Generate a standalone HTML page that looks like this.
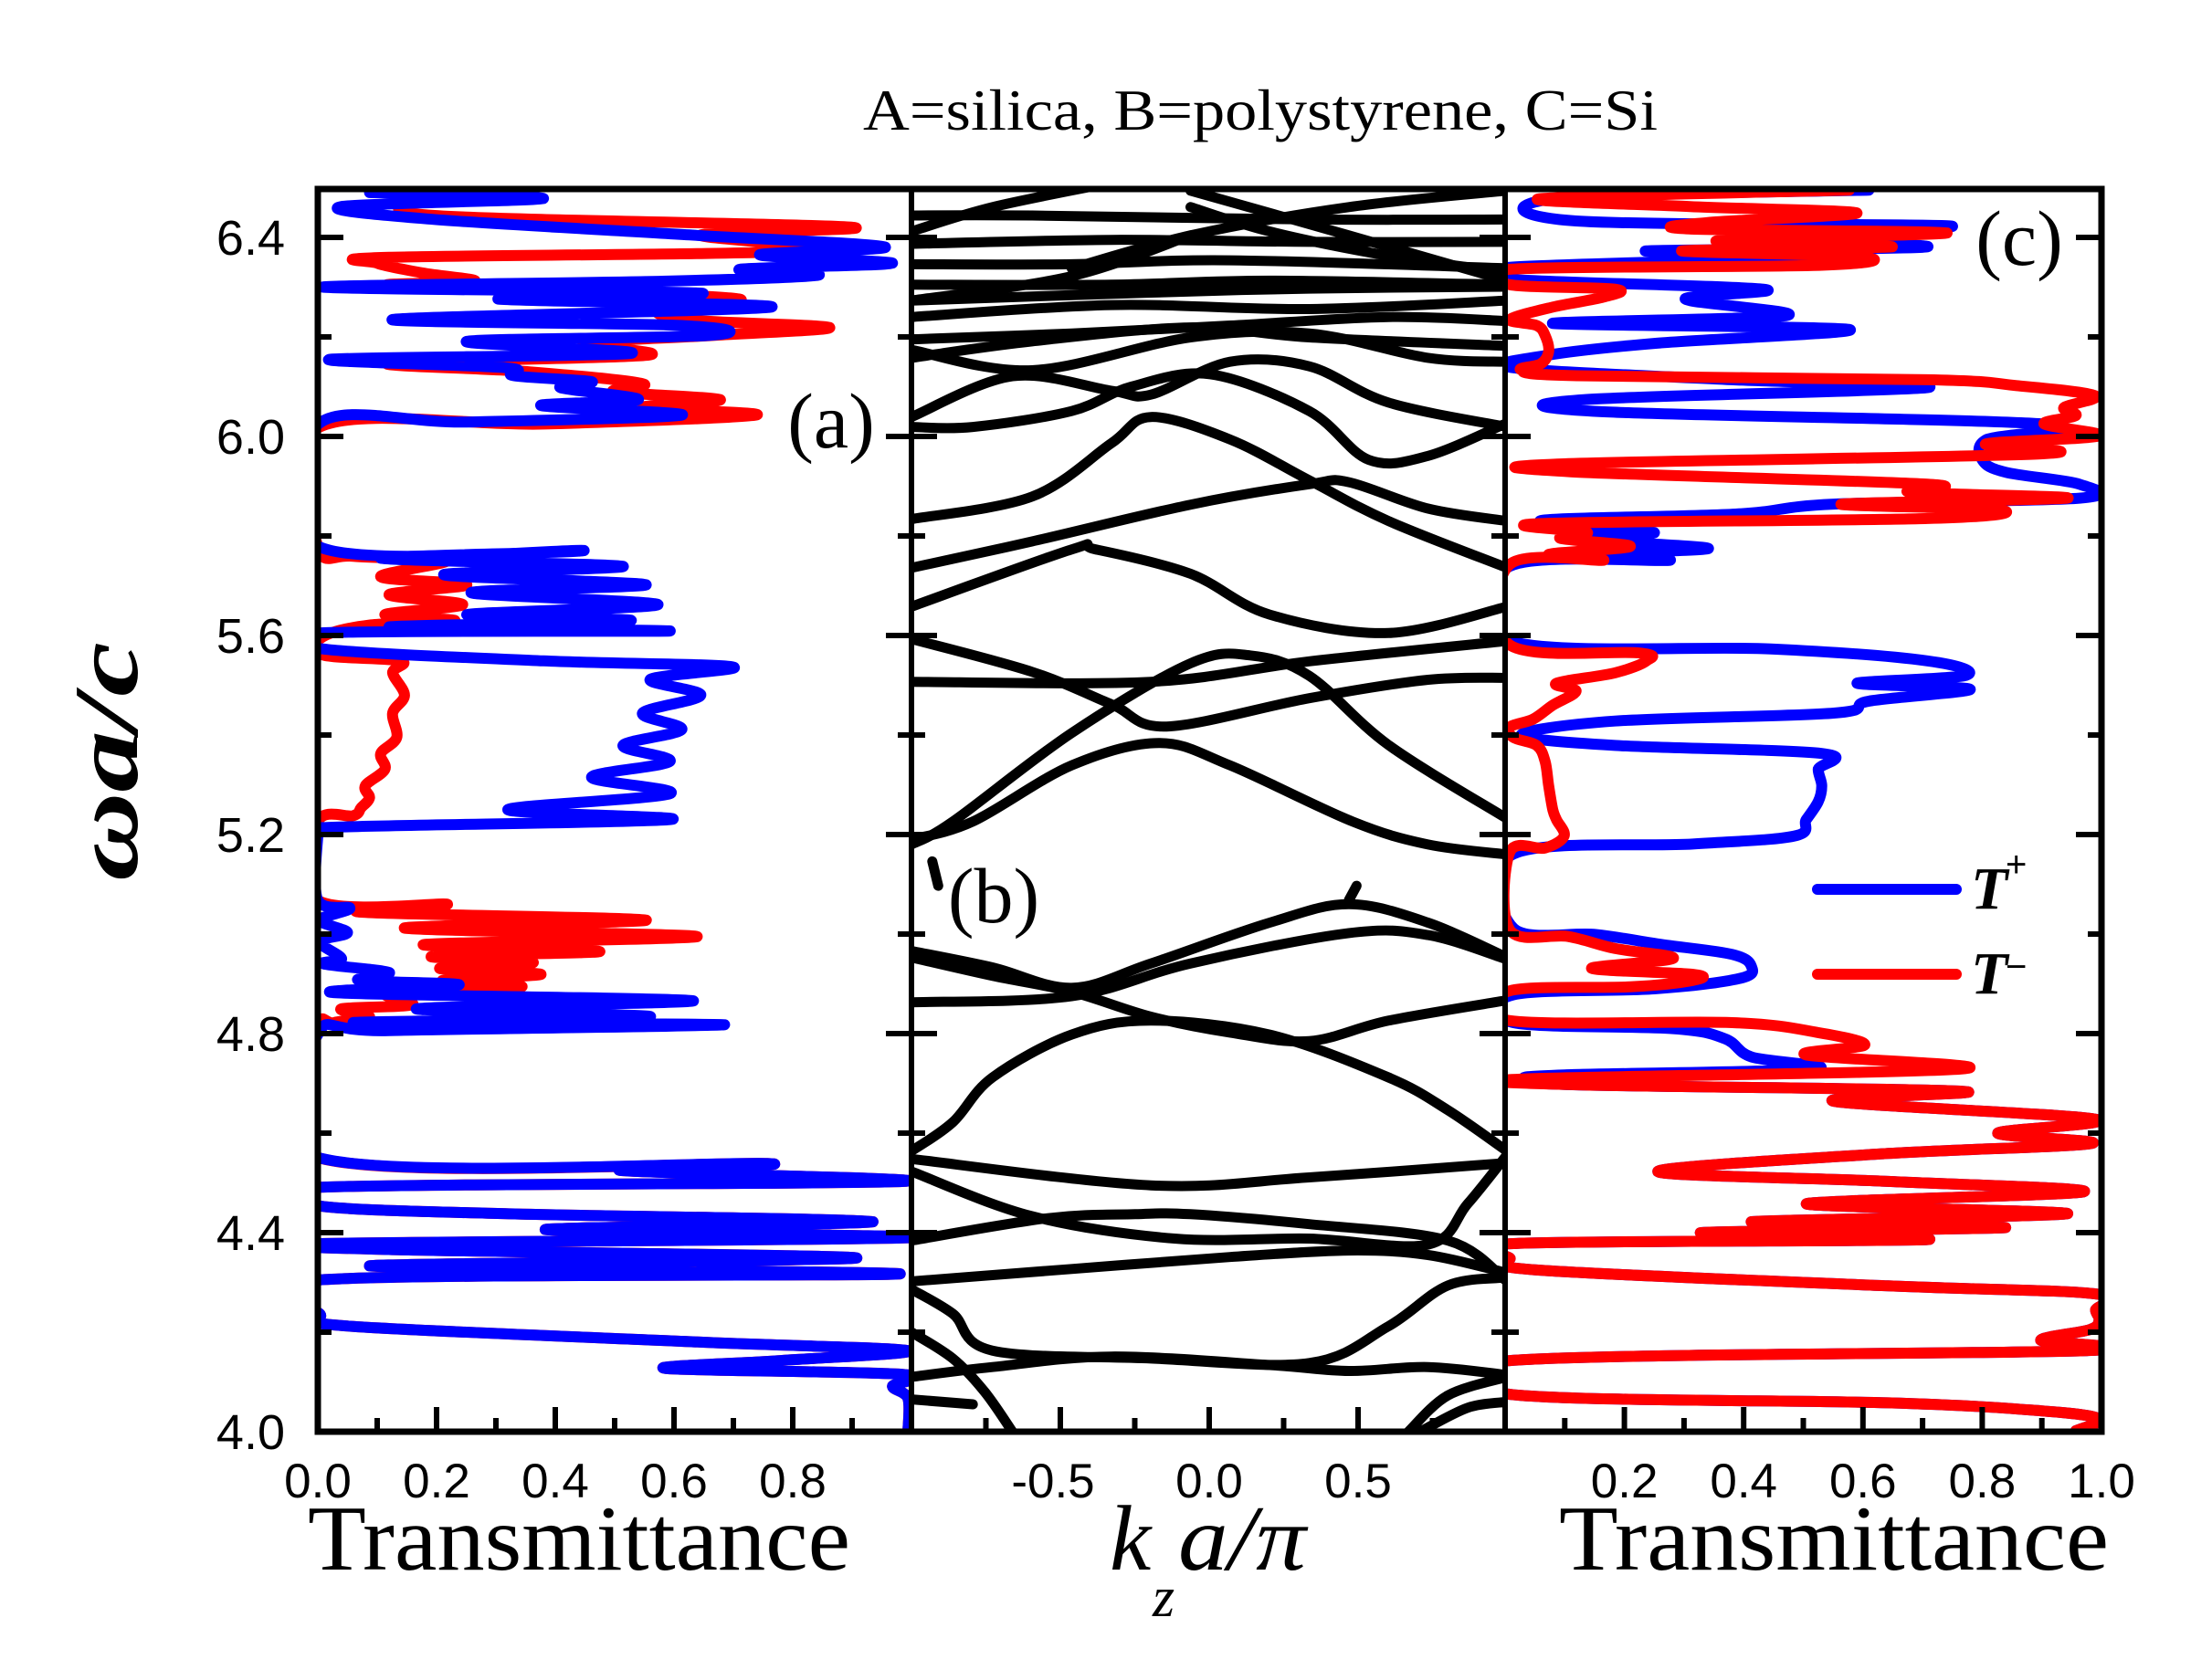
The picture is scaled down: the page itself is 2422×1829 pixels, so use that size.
<!DOCTYPE html>
<html><head><meta charset="utf-8"><style>
html,body{margin:0;padding:0;background:#fff;}
svg{display:block;}
</style></head><body>
<svg id="chart" xmlns="http://www.w3.org/2000/svg" width="2422" height="1829" viewBox="0 0 2422 1829">
<rect x="0" y="0" width="2422" height="1829" fill="#fff"/>
<defs>
<clipPath id="clipA"><rect x="348" y="207" width="650" height="1361"/></clipPath>
<clipPath id="clipB"><rect x="998" y="207" width="650" height="1361"/></clipPath>
<clipPath id="clipC"><rect x="1648" y="207" width="653" height="1361"/></clipPath>
</defs>
<g id="gA" clip-path="url(#clipA)"></g>
<g id="gB" clip-path="url(#clipB)"></g>
<g id="gC" clip-path="url(#clipC)"></g>
<g id="gAxes"></g>
<text x="1380" y="142" font-family="Liberation Serif, serif" font-size="64" text-anchor="middle" textLength="870" lengthAdjust="spacingAndGlyphs">A=silica, B=polystyrene, C=Si</text>
<text x="910" y="490" font-family="Liberation Serif, serif" font-size="86" text-anchor="middle">(a)</text>
<text x="1088" y="1010" font-family="Liberation Serif, serif" font-size="86" text-anchor="middle">(b)</text>
<text x="2211" y="290" font-family="Liberation Serif, serif" font-size="86" text-anchor="middle">(c)</text>
<text x="634" y="1719" font-family="Liberation Serif, serif" font-size="102" text-anchor="middle" textLength="594" lengthAdjust="spacingAndGlyphs">Transmittance</text>
<text x="2008" y="1719" font-family="Liberation Serif, serif" font-size="102" text-anchor="middle" textLength="602" lengthAdjust="spacingAndGlyphs">Transmittance</text>
<g font-family="Liberation Serif, serif" font-style="italic">
<text x="1215" y="1719" font-size="102">k</text>
<text x="1262" y="1770" font-size="62">z</text>
<text x="1290" y="1719" font-size="102" textLength="140" lengthAdjust="spacingAndGlyphs">a/π</text>
</g>
<text transform="translate(150,834) rotate(-90)" x="0" y="0" font-family="Liberation Serif, serif" font-size="100" font-weight="bold" font-style="italic" text-anchor="middle" textLength="262" lengthAdjust="spacingAndGlyphs">ωa/c</text>
<g>
<line x1="1990" y1="974" x2="2142" y2="974" stroke="#0000ff" stroke-width="12" stroke-linecap="round"/>
<text x="2158" y="995" font-family="Liberation Serif, serif" font-size="66" font-weight="bold" font-style="italic">T</text>
<text x="2196" y="960" font-family="Liberation Sans, sans-serif" font-size="40">+</text>
<line x1="1990" y1="1067" x2="2142" y2="1067" stroke="#ff0000" stroke-width="12" stroke-linecap="round"/>
<text x="2158" y="1088" font-family="Liberation Serif, serif" font-size="66" font-weight="bold" font-style="italic">T</text>
<text x="2196" y="1072" font-family="Liberation Sans, sans-serif" font-size="40">−</text>
</g>
</svg>
<script>
// ---------- data: panel (a) ----------
const aBlueW=[6.490,6.478,6.462,6.437,6.405,6.381,6.365,6.348,6.336,6.324,6.312,6.300,6.288,6.276,6.260,6.235,6.223,6.203,6.191,6.167,6.155,6.138,6.122,6.110,6.098,6.074,6.062,6.043,6.029,6.025,5.779,5.771,5.755,5.739,5.722,5.702,5.686,5.662,5.642,5.630,5.617,5.609,5.605,5.573,5.549,5.537,5.512,5.480,5.444,5.411,5.379,5.347,5.315,5.282,5.250,5.230,5.214,5.197,5.068,5.052,5.028,5.003,4.985,4.951,4.940,4.923,4.907,4.898,4.882,4.866,4.850,4.834,4.822,4.818,4.806,4.798,4.551,4.539,4.525,4.503,4.491,4.454,4.438,4.422,4.406,4.390,4.378,4.366,4.349,4.333,4.317,4.305,4.236,4.212,4.180,4.163,4.143,4.127,4.115,4.091,4.067,4.000];
const aBlueT=[.087,.38,.04,.185,.626,.955,.744,.968,.711,.843,.58,.008,.645,.304,.764,.126,.613,.659,.251,.527,.021,.317,.33,.461,.409,.54,.376,.613,.251,.001,.001,.448,.106,.514,.212,.553,.258,.573,.251,.527,.12,.593,.001,.008,.38,.698,.56,.645,.547,.613,.514,.593,.461,.593,.32,.593,.008,0,0,.054,.003,.05,.003,.04,.01,.12,.07,.238,.03,.632,.166,.56,.06,.685,.12,0,0,.757,.51,.987,0,0,.317,.935,.383,1.0,0,.12,.908,.087,.981,0,.004,.054,.645,.994,.78,.586,.987,.968,.994,.994];
const aRedW=[6.495,6.486,6.445,6.421,6.405,6.373,6.360,6.348,6.328,6.312,6.304,6.292,6.276,6.260,6.235,6.219,6.203,6.187,6.163,6.147,6.130,6.106,6.090,6.074,6.058,6.043,6.025,6.017,5.779,5.759,5.751,5.718,5.702,5.682,5.662,5.642,5.630,5.621,5.597,5.561,5.549,5.525,5.480,5.444,5.395,5.363,5.331,5.298,5.274,5.254,5.238,5.226,5.068,5.060,5.044,5.028,5.012,4.995,4.979,4.965,4.955,4.943,4.931,4.919,4.907,4.894,4.882,4.858,4.850,4.834,4.822,4.806,4.551,4.539,4.525,4.503,4.491,4.454,4.438,4.422,4.406,4.390,4.378,4.366,4.349,4.333,4.317,4.305,4.236,4.212,4.180,4.163,4.143,4.127,4.115,4.091,4.067,4.000];
const aRedT=[.27,.205,.185,.895,.645,.823,.12,.1,.179,.264,.12,.448,.711,.58,.613,.862,.665,.448,.553,.12,.356,.547,.5,.678,.547,.738,.383,0,0,.06,.218,.106,.251,.12,.244,.113,.231,.087,.008,.008,.139,.126,.146,.126,.133,.106,.113,.08,.087,.073,.06,0,0,.218,.073,.553,.146,.639,.179,.475,.192,.363,.205,.376,.21,.343,.12,.159,.04,.087,.027,0,0,.757,.51,.987,0,0,.317,.935,.383,1.0,0,.12,.908,.087,.981,0,.004,.054,.645,.994,.78,.586,.987,.968,.994,.994];
// ---------- data: panel (c) ----------
const cBlueW=[6.495,6.478,6.433,6.423,6.405,6.381,6.373,6.361,6.340,6.316,6.296,6.276,6.243,6.227,6.215,6.187,6.163,6.138,6.114,6.098,6.074,6.050,6.025,5.993,5.953,5.928,5.904,5.876,5.864,5.844,5.831,5.807,5.795,5.775,5.763,5.751,5.739,5.589,5.573,5.549,5.520,5.504,5.492,5.468,5.444,5.428,5.400,5.379,5.363,5.331,5.298,5.266,5.230,5.197,5.181,5.161,5.012,4.999,4.979,4.959,4.935,4.911,4.890,4.878,4.822,4.810,4.790,4.753,4.729,4.717,4.709,4.697,4.684,4.664,4.628,4.600,4.579,4.559,4.523,4.503,4.482,4.458,4.438,4.422,4.410,4.400,4.386,4.378,4.349,4.325,4.293,4.277,4.244,4.224,4.205,4.184,4.163,4.143,4.075,4.058,4.042,4.026,4.002];
const cBlueT=[.61,.086,.119,.747,.38,.708,.237,.51,.008,.008,.433,.302,.472,.08,.577,.25,.07,.014,.38,.708,.132,.158,.904,.806,.8,.839,.963,.963,.551,.387,.06,.25,.11,.341,.12,.276,.008,.008,.446,.708,.773,.59,.78,.61,.551,.184,.027,.184,.531,.525,.531,.525,.505,.485,.315,.014,.014,.152,.263,.381,.413,.394,.25,.014,.014,.282,.368,.413,.518,.1,.034,.12,.767,.551,.989,.826,.983,.642,.256,.642,.97,.505,.943,.413,.839,.328,.708,.014,.008,.053,.642,.989,.99,.996,.98,.898,.976,.008,.008,.642,.898,.996,.957];
const cRedW=[6.495,6.478,6.462,6.449,6.430,6.417,6.409,6.393,6.381,6.373,6.361,6.344,6.336,6.305,6.296,6.280,6.260,6.235,6.223,6.203,6.171,6.146,6.134,6.122,6.114,6.102,6.082,6.058,6.042,6.025,6.001,5.985,5.965,5.945,5.929,5.904,5.888,5.876,5.864,5.852,5.835,5.825,5.807,5.795,5.779,5.763,5.751,5.743,5.581,5.565,5.549,5.525,5.504,5.488,5.460,5.432,5.416,5.395,5.379,5.347,5.298,5.250,5.230,5.197,5.173,5.165,5.008,4.995,4.971,4.951,4.931,4.919,4.907,4.894,4.886,4.826,4.822,4.802,4.777,4.757,4.729,4.709,4.697,4.684,4.664,4.628,4.600,4.579,4.559,4.523,4.503,4.482,4.458,4.438,4.422,4.410,4.400,4.386,4.378,4.349,4.325,4.293,4.277,4.244,4.224,4.205,4.184,4.163,4.143,4.075,4.058,4.042,4.026,4.002];
const cRedT=[.577,.06,.31,.59,.34,.309,.741,.354,.649,.296,.597,.531,.008,.008,.184,.165,.08,.008,.053,.067,.073,.06,.027,.12,.708,.858,.989,.937,.957,.904,.996,.806,.898,.099,.11,.708,.68,.943,.564,.832,.708,.06,.138,.093,.21,.073,.165,.008,.008,.224,.237,.184,.086,.119,.08,.047,.008,.014,.053,.067,.073,.08,.086,.099,.067,.008,.008,.106,.184,.282,.145,.315,.315,.21,.008,.008,.381,.525,.603,.505,.767,.034,.12,.767,.551,.989,.826,.983,.642,.256,.642,.97,.505,.943,.413,.839,.328,.708,.014,.008,.053,.642,.989,.99,.996,.98,.898,.976,.008,.008,.642,.898,.996,.957];
// ---------- data: panel (b) band structure (k, omega) ----------
const bandK=[
[-1,-0.728,-0.462,-0.196,0.203,0.469,0.735,1],
[-1,-0.728,-0.462,-0.196,0.07,0.336,0.602,1],
[-1,-0.462,-0.063,0.469,0.735,1],
[-1,-0.861,-0.728,-0.462,-0.196,0.203,0.602,0.802,1],
[-1,-0.196,0.336,1],
[-1,-0.595,-0.116,0.336,0.735,0.868,1],
[-1,-0.542,-0.249,-0.063,0.336,0.802,1],
[-1,-0.462,0.07,0.469,0.735,1],
[-1,-0.861,-0.728,-0.196,0.336,0.602,0.802,1],
[-1,-0.728,-0.329,0.203,0.469,0.735,1],
[-1,-0.861,-0.754,-0.661],
[-1,-0.794],
[0.669,0.802,1],
[0.709,0.868,1],
[-0.93,-0.91],
[0.469,0.495],
[-1,-0.595,-0.329,-0.143,0.336,0.735,1],
[-1,-0.196,0.336,1],
[-1,-0.861,-0.462,-0.063,0.137,0.336,0.602,1],
[-1,-0.794,-0.462,-0.169,0.07,0.482,0.735,1],
[-1,-0.462,-0.382,-0.063,0.203,0.602,1],
[-1,-0.595,-0.063,0.336,0.469,0.735,1],
[-1,-0.595,-0.329,-0.196,0.07,0.336,0.602,1],
[-1,-0.794,-0.462,-0.262,0.004,0.336,0.536,0.735,1],
[-1,-0.661,-0.329,-0.196,0.07,0.336,0.602,1],
[-1,-0.595,-0.063,0.336,0.735,1],
[-1,-0.595,-0.063,0.336,1],
[-1,-0.462,0.07,0.602,1],
[-1,-0.329,0.336,1],
[-1,-0.196,0.336,1],
[-1,-0.329,0.203,1],
[-1,-0.462,0.07,1],
[-1,-0.329,0.336,1],
[-1,-0.595,0.336,1],
[-1,-0.728,-0.329],
[-0.063,0.203,0.602,1],
[-0.462,-0.063,0.469,1],
[-1,-0.462,-0.063],
[-0.063,0.469,1]];
const bandW=[
[4.966,4.933,4.892,4.941,5.023,5.060,5.023,4.953],
[4.953,4.916,4.884,4.834,4.802,4.785,4.826,4.867],
[4.863,4.875,4.941,5.002,4.998,4.949],
[4.564,4.622,4.712,4.798,4.826,4.798,4.712,4.646,4.564],
[4.548,4.495,4.511,4.54],
[4.523,4.433,4.388,4.388,4.376,4.458,4.556],
[4.384,4.429,4.437,4.437,4.417,4.384,4.302],
[4.302,4.327,4.351,4.364,4.355,4.319],
[4.286,4.237,4.163,4.147,4.138,4.212,4.294,4.31],
[4.11,4.13,4.151,4.134,4.122,4.13,4.114],
[4.2,4.147,4.08,4.0],
[4.065,4.055],
[4.0,4.073,4.11],
[4.0,4.048,4.06],
[5.146,5.097],
[5.068,5.097],
[5.593,5.527,5.462,5.417,5.474,5.511,5.515],
[5.507,5.507,5.548,5.589],
[5.18,5.226,5.404,5.544,5.56,5.519,5.38,5.232],
[5.19,5.226,5.339,5.384,5.339,5.226,5.18,5.16],
[5.658,5.773,5.773,5.724,5.642,5.605,5.658],
[5.736,5.789,5.863,5.904,5.908,5.855,5.83],
[5.834,5.879,5.986,6.039,5.994,5.912,5.83,5.736],
[6.019,6.019,6.051,6.1,6.125,6.051,5.953,5.961,6.027],
[6.039,6.121,6.092,6.084,6.15,6.141,6.068,6.019],
[6.174,6.133,6.199,6.207,6.158,6.15],
[6.158,6.191,6.219,6.199,6.182],
[6.195,6.207,6.223,6.24,6.232],
[6.24,6.264,6.256,6.273],
[6.273,6.289,6.297,6.301],
[6.305,6.305,6.313,6.305],
[6.346,6.346,6.354,6.338],
[6.387,6.395,6.391,6.391],
[6.444,6.444,6.436,6.436],
[6.412,6.461,6.51],
[6.461,6.412,6.363,6.33],
[6.338,6.404,6.461,6.494],
[6.273,6.322,6.404],
[6.494,6.404,6.313]];
// ---------- ticks ----------
const yTickLabels=["4.0","4.4","4.8","5.2","5.6","6.0","6.4"];
const aTickLabels=["0.0","0.2","0.4","0.6","0.8"];
const bTickLabels=["-0.5","0.0","0.5"];
const cTickLabels=["0.2","0.4","0.6","0.8","1.0"];

const NS="http://www.w3.org/2000/svg";
function yw(w){return 1568-(w-4)*545;}
function xa(t){return 348+t*650;}
function xb(k){return 1324+k*326;}
function xc(t){return 1648+t*653;}

function mk(tag,parent){const e=document.createElementNS(NS,tag);parent.appendChild(e);return e;}

function smooth(pts){
  if(pts.length<3){return 'M'+pts.map(p=>p[0].toFixed(1)+','+p[1].toFixed(1)).join(' L');}
  let d='M'+pts[0][0].toFixed(1)+','+pts[0][1].toFixed(1);
  for(let i=0;i<pts.length-1;i++){
    const p0=pts[i-1]||pts[i],p1=pts[i],p2=pts[i+1],p3=pts[i+2]||p2;
    const c1=[p1[0]+(p2[0]-p0[0])/6,p1[1]+(p2[1]-p0[1])/6];
    const c2=[p2[0]-(p3[0]-p1[0])/6,p2[1]-(p3[1]-p1[1])/6];
    d+=' C'+c1[0].toFixed(1)+','+c1[1].toFixed(1)+' '+c2[0].toFixed(1)+','+c2[1].toFixed(1)+' '+p2[0].toFixed(1)+','+p2[1].toFixed(1);
  }
  return d;
}

function series(g,W,T,xf,color,name){
  const p=mk('path',g);
  
  
  const pts=W.map((w,i)=>[xf(T[i]),yw(w)]);
  p.setAttribute('d',smooth(pts));
  p.setAttribute('fill','none');p.setAttribute('stroke',color);
  p.setAttribute('stroke-width','12');p.setAttribute('stroke-linejoin','round');p.setAttribute('stroke-linecap','round');
}
const gA=document.getElementById('gA'),gB=document.getElementById('gB'),gC=document.getElementById('gC'),gX=document.getElementById('gAxes');
series(gA,aRedW,aRedT,xa,'#ff0000','panel-a-t-minus');
series(gA,aBlueW,aBlueT,xa,'#0000ff','panel-a-t-plus');
series(gC,cBlueW,cBlueT,xc,'#0000ff','panel-c-t-plus');
series(gC,cRedW,cRedT,xc,'#ff0000','panel-c-t-minus');

bandK.forEach((ks,bi)=>{
  const pts=ks.map((k,i)=>[xb(k),yw(bandW[bi][i])]);
  const p=mk('path',gB);
  
  
  p.setAttribute('d',smooth(pts));
  p.setAttribute('fill','none');p.setAttribute('stroke','#000');
  p.setAttribute('stroke-width','11');p.setAttribute('stroke-linecap','round');p.setAttribute('stroke-linejoin','round');
});

function line(x1,y1,x2,y2,w,name){
  const l=mk('line',gX);
  
  
  l.setAttribute('x1',x1);l.setAttribute('y1',y1);l.setAttribute('x2',x2);l.setAttribute('y2',y2);
  l.setAttribute('stroke','#000');l.setAttribute('stroke-width',w);
}
function txt(x,y,s,size,name){
  const t=mk('text',gX);
  
  
  t.setAttribute('x',x);t.setAttribute('y',y);t.setAttribute('font-size',size);
  t.setAttribute('font-family','Liberation Sans, sans-serif');t.setAttribute('text-anchor','middle');
  t.textContent=s;return t;
}
for(let i=0;i<=12;i++){
  const w=4+i*0.2,y=yw(w),L=(i%2===0)?28:15;
  line(348,y,348+L,y,6,'y-tick-left');
  line(998-L,y,998+L,y,6,'y-tick-divider-ab');
  line(1648-L,y,1648+L,y,6,'y-tick-divider-bc');
  line(2301-L,y,2301,y,6,'y-tick-right');
}
yTickLabels.forEach(s=>{
  const t=txt(312,yw(parseFloat(s))+19,s,54,'y-tick-label');
  t.setAttribute('text-anchor','end');
});
for(let i=1;i<10;i++){
  const L=(i%2===0)?27:15;
  line(xa(i/10),1568,xa(i/10),1568-L,6,'x-tick-a');
  line(xc(i/10),1568,xc(i/10),1568-L,6,'x-tick-c');
}
for(let i=-3;i<=3;i++){
  const L=(i%2===0)?27:15;
  line(xb(i*0.25),1568,xb(i*0.25),1568-L,6,'x-tick-b');
}
aTickLabels.forEach(s=>txt(xa(parseFloat(s)),1640,s,53,'x-tick-label-a'));
bTickLabels.forEach(s=>txt(xb(parseFloat(s))-(s[0]==='-'?8:0),1640,s,53,'x-tick-label-b'));
cTickLabels.forEach(s=>txt(xc(parseFloat(s)),1640,s,53,'x-tick-label-c'));
const fr=mk('rect',gX);


fr.setAttribute('x',348);fr.setAttribute('y',207);fr.setAttribute('width',1953);fr.setAttribute('height',1361);
fr.setAttribute('fill','none');fr.setAttribute('stroke','#000');fr.setAttribute('stroke-width','7');
line(998,207,998,1568,6,'divider-ab');
line(1648,207,1648,1568,6,'divider-bc');
</script>
</body></html>
